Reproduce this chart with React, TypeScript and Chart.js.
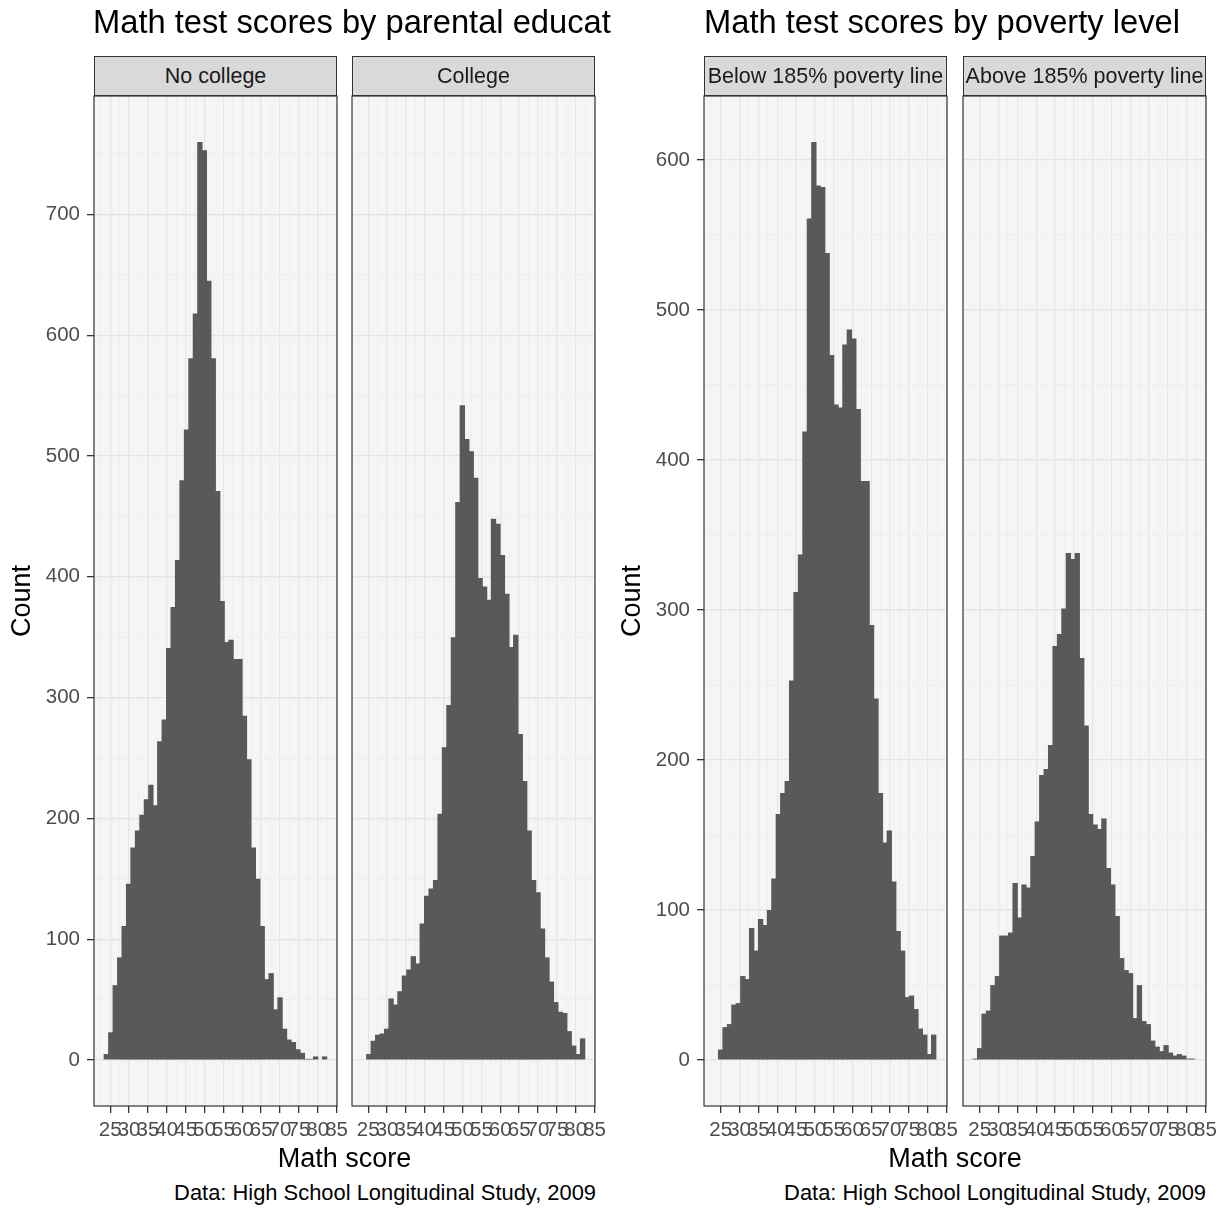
import React, { useEffect, useRef } from "react";
import { Chart, registerables } from "chart.js";

Chart.register(...registerables);

// ---------- data ----------
const BIN_WIDTH = 1.18;
const EDU_BIN_START = 23.4;
const POV_BIN_START = 23.2;

const noCollege = [5, 23, 62, 85, 111, 146, 176, 190, 203, 216, 228, 211, 264, 282, 341, 375, 414, 480, 522, 581, 618, 760, 753, 645, 581, 471, 380, 346, 348, 332, 332, 285, 249, 176, 150, 111, 67, 72, 42, 52, 26, 17, 15, 9, 6, 1, 1, 3, 0, 3];
const college = [0, 5, 16, 21, 22, 26, 51, 46, 57, 70, 75, 86, 80, 113, 136, 142, 149, 204, 259, 294, 350, 462, 542, 514, 504, 482, 399, 392, 381, 448, 444, 418, 386, 342, 352, 270, 231, 190, 149, 139, 109, 85, 65, 48, 40, 39, 24, 12, 5, 18];
const belowPoverty = [0, 7, 22, 24, 37, 38, 56, 54, 88, 73, 94, 90, 100, 121, 164, 178, 186, 253, 312, 337, 419, 561, 612, 583, 582, 538, 470, 437, 435, 477, 487, 481, 434, 386, 386, 290, 241, 178, 145, 153, 119, 86, 73, 42, 43, 34, 21, 17, 4, 17];
const abovePoverty = [1, 8, 31, 33, 50, 56, 83, 83, 85, 118, 95, 117, 115, 136, 159, 190, 194, 210, 276, 284, 301, 338, 334, 338, 268, 223, 164, 157, 154, 161, 128, 117, 96, 68, 60, 58, 28, 50, 26, 24, 13, 9, 6, 10, 5, 3, 4, 3, 1, 1];

const xTickLabels = [25, 30, 35, 40, 45, 50, 55, 60, 65, 70, 75, 80, 85];
const xMinorBreaks = [22.5, 27.5, 32.5, 37.5, 42.5, 47.5, 52.5, 57.5, 62.5, 67.5, 72.5, 77.5, 82.5];
const eduYTicks = [0, 100, 200, 300, 400, 500, 600, 700];
const eduYMinor = [50, 150, 250, 350, 450, 550, 650, 750];
const povYTicks = [0, 100, 200, 300, 400, 500, 600];
const povYMinor = [50, 150, 250, 350, 450, 550];

const FONT = '"Liberation Sans", Arial, Helvetica, sans-serif';

const isIn = (arr: number[], v: number) => arr.some((a) => Math.abs(a - v) < 1e-6);

const framePlugin = {
  id: "panelFrame",
  beforeDraw(chart: any) {
    const { ctx, chartArea: a } = chart;
    ctx.save();
    ctx.fillStyle = "#f5f5f5";
    ctx.fillRect(a.left, a.top, a.right - a.left, a.bottom - a.top);
    ctx.restore();
  },
  afterDraw(chart: any) {
    const { ctx, chartArea: a } = chart;
    ctx.save();
    ctx.strokeStyle = "#333333";
    ctx.lineWidth = 1.2;
    ctx.strokeRect(a.left, a.top, a.right - a.left, a.bottom - a.top);
    ctx.restore();
  },
};

type FacetProps = {
  counts: number[];
  binStart: number;
  xMin: number;
  xMax: number;
  yMin: number;
  yMax: number;
  yMajor: number[];
  yMinor: number[];
  showY: boolean;
  left: number;
  top: number;
  width: number;
  height: number;
  padLeft: number;
};

function Facet(p: FacetProps) {
  const ref = useRef<HTMLCanvasElement | null>(null);
  useEffect(() => {
    if (!ref.current) return;
    const points = p.counts.map((c, i) => ({ x: p.binStart + (i + 0.5) * BIN_WIDTH, y: c }));
    const xAll = [...xMinorBreaks, ...xTickLabels].sort((a, b) => a - b);
    const yAll = [...p.yMajor, ...p.yMinor].sort((a, b) => a - b);
    const chart = new Chart(ref.current, {
      type: "bar",
      data: {
        datasets: [
          {
            data: points as any,
            backgroundColor: "#595959",
            borderWidth: 0,
            barPercentage: 1.2,
            categoryPercentage: 1,
            grouped: false,
          } as any,
        ],
      },
      options: {
        animation: false,
        responsive: false,
        events: [],
        layout: { padding: { left: p.padLeft, right: 20, top: 20, bottom: 0 } },
        plugins: {
          legend: { display: false },
          tooltip: { enabled: false },
          title: { display: false },
        },
        scales: {
          x: {
            type: "linear",
            min: p.xMin,
            max: p.xMax,
            offset: false,
            afterBuildTicks: (axis: any) => {
              axis.ticks = xAll.map((v) => ({ value: v }));
            },
            afterFit: (axis: any) => {
              axis.height = 44;
            },
            ticks: {
              autoSkip: false,
              maxRotation: 0,
              minRotation: 0,
              padding: 5,
              color: "#4d4d4d",
              font: { family: FONT, size: 20.5 },
              callback: (v: any) => (isIn(xTickLabels, Number(v)) ? String(v) : ""),
            },
            grid: {
              offset: false,
              color: (ctx: any) => (isIn(xTickLabels, ctx.tick?.value) ? "#e6e6e6" : "#ededed"),
              lineWidth: (ctx: any) => (isIn(xTickLabels, ctx.tick?.value) ? 1.3 : 0.8),
              tickColor: (ctx: any) => (isIn(xTickLabels, ctx.tick?.value) ? "#333333" : "rgba(0,0,0,0)"),
              tickLength: 7,
              drawTicks: true,
            },
            border: { display: false },
          },
          y: {
            type: "linear",
            min: p.yMin,
            max: p.yMax,
            afterBuildTicks: (axis: any) => {
              axis.ticks = yAll.map((v) => ({ value: v }));
            },
            afterFit: (axis: any) => {
              axis.width = p.showY ? 94 : 0;
            },
            ticks: {
              display: p.showY,
              padding: 7,
              color: "#4d4d4d",
              font: { family: FONT, size: 20.5 },
              callback: (v: any) => (isIn(p.yMajor, Number(v)) ? String(v) : ""),
            },
            grid: {
              color: (ctx: any) => (isIn(p.yMajor, ctx.tick?.value) ? "#e4e4e4" : "#ececec"),
              lineWidth: (ctx: any) => (isIn(p.yMajor, ctx.tick?.value) ? 1.3 : 0.8),
              tickColor: (ctx: any) => (isIn(p.yMajor, ctx.tick?.value) ? "#333333" : "rgba(0,0,0,0)"),
              tickLength: 7,
              drawTicks: p.showY,
            },
            border: { display: false },
            title: {
              display: p.showY,
              text: "Count",
              color: "#000000",
              font: { family: FONT, size: 27 },
              padding: { top: 6, bottom: 0 },
            },
          },
        },
      } as any,
      plugins: [framePlugin],
    });
    return () => chart.destroy();
  }, []);
  return (
    <canvas
      ref={ref}
      width={p.width}
      height={p.height}
      style={{ position: "absolute", left: p.left, top: p.top, width: p.width, height: p.height }}
    />
  );
}

function Strip({ left, text }: { left: number; text: string }) {
  return (
    <div
      style={{
        position: "absolute",
        left,
        top: 56,
        width: 243,
        height: 40,
        boxSizing: "border-box",
        border: "1.2px solid #333333",
        background: "#d9d9d9",
        color: "#1a1a1a",
        fontSize: 21.5,
        display: "flex",
        alignItems: "center",
        justifyContent: "center",
        whiteSpace: "nowrap",
        overflow: "hidden",
      }}
    >
      {text}
    </div>
  );
}

function Txt({ style, children }: { style: React.CSSProperties; children: React.ReactNode }) {
  return <div style={{ position: "absolute", whiteSpace: "nowrap", ...style }}>{children}</div>;
}

export default function App() {
  const eduY = { yMin: -38, yMax: 798, yMajor: eduYTicks, yMinor: eduYMinor };
  const povY = { yMin: -30.6, yMax: 642.6, yMajor: povYTicks, yMinor: povYMinor };
  return (
    <div
      style={{
        position: "absolute",
        left: 0,
        top: 0,
        width: 1226,
        height: 1208,
        background: "#ffffff",
        fontFamily: FONT,
        overflow: "hidden",
      }}
    >
      <Facet counts={noCollege} binStart={EDU_BIN_START} xMin={20.72} xMax={85.1} {...eduY} showY={true} left={0} top={76} width={357} height={1074} padLeft={0} />
      <Facet counts={college} binStart={EDU_BIN_START} xMin={20.72} xMax={85.1} {...eduY} showY={false} left={350} top={76} width={265} height={1074} padLeft={2} />
      <Facet counts={belowPoverty} binStart={POV_BIN_START} xMin={20.55} xMax={85.15} {...povY} showY={true} left={610} top={76} width={357} height={1074} padLeft={0} />
      <Facet counts={abovePoverty} binStart={POV_BIN_START} xMin={20.55} xMax={85.15} {...povY} showY={false} left={961} top={76} width={265} height={1074} padLeft={2} />

      <Strip left={94} text="No college" />
      <Strip left={352} text="College" />
      <Strip left={704} text="Below 185% poverty line" />
      <Strip left={963} text="Above 185% poverty line" />

      <Txt style={{ left: 93, top: 3, width: 519, overflow: "hidden", fontSize: 32.7, lineHeight: "38px", color: "#000" }}>
        Math test scores by parental education
      </Txt>
      <Txt style={{ left: 704, top: 3, fontSize: 32.7, lineHeight: "38px", color: "#000" }}>
        Math test scores by poverty level
      </Txt>

      <Txt style={{ left: 94, width: 501, top: 1142, textAlign: "center", fontSize: 27, lineHeight: "32px", color: "#000" }}>
        Math score
      </Txt>
      <Txt style={{ left: 704, width: 502, top: 1142, textAlign: "center", fontSize: 27, lineHeight: "32px", color: "#000" }}>
        Math score
      </Txt>

      <Txt style={{ left: 95, width: 501, top: 1180, textAlign: "right", fontSize: 21.9, lineHeight: "26px", color: "#000" }}>
        Data: High School Longitudinal Study, 2009
      </Txt>
      <Txt style={{ left: 704, width: 502, top: 1180, textAlign: "right", fontSize: 21.9, lineHeight: "26px", color: "#000" }}>
        Data: High School Longitudinal Study, 2009
      </Txt>
    </div>
  );
}
